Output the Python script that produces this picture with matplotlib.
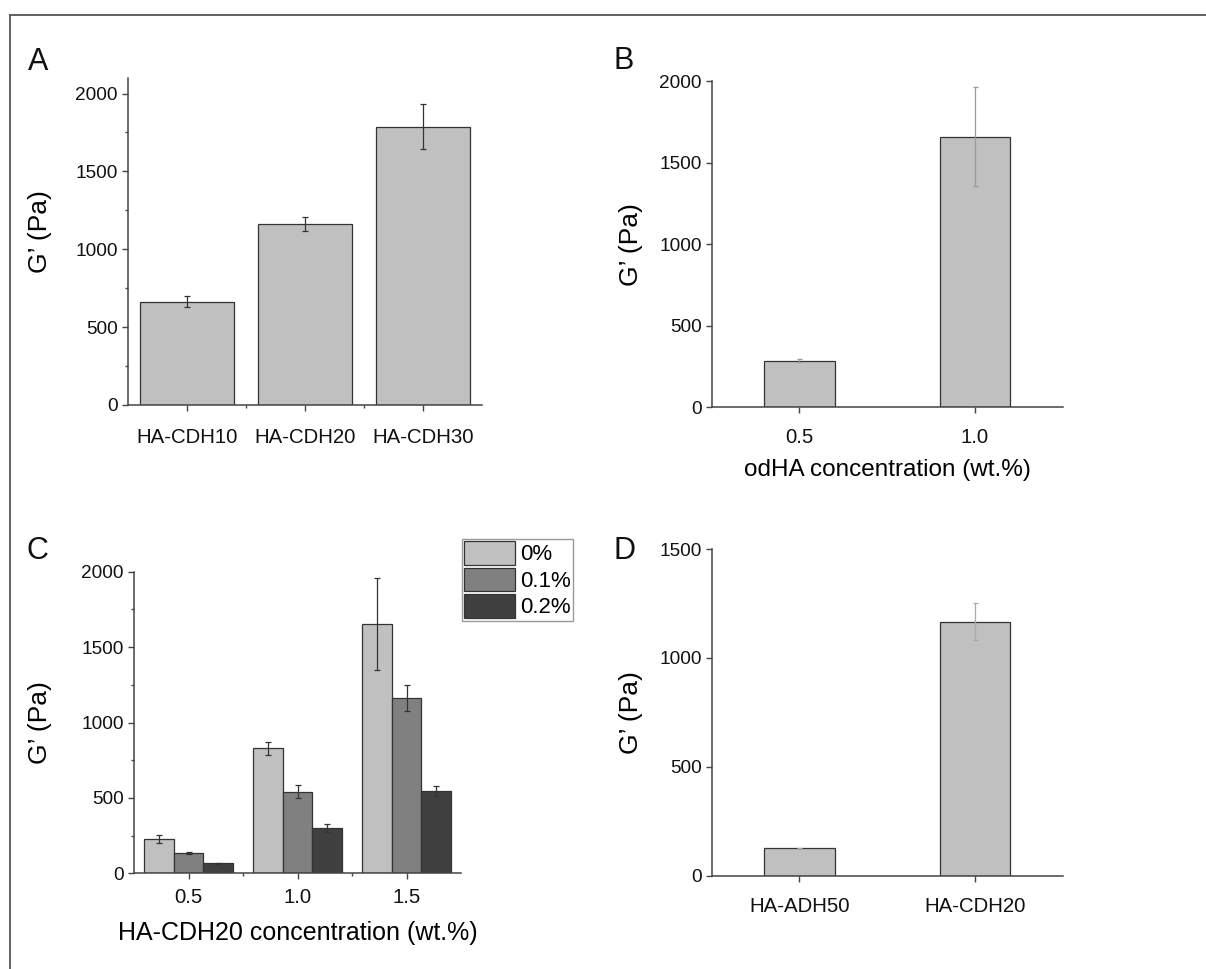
import matplotlib
matplotlib.use('Agg')
import matplotlib.pyplot as plt
from matplotlib.lines import Line2D
from matplotlib.ticker import MultipleLocator, FixedLocator
import numpy as np

plt.rcParams['font.family'] = ['Liberation Sans', 'DejaVu Sans']

# ---------------- data ----------------
a_labels = ['HA-CDH10', 'HA-CDH20', 'HA-CDH30']
a_values = [663, 1163, 1786]
a_errors = [35, 45, 144]

b_labels = ['0.5', '1.0']
b_values = [286, 1659]
b_errors = [8, 305]

c_labels = ['0.5', '1.0', '1.5']
c_series = ['0%', '0.1%', '0.2%']
c_v0 = [227, 829, 1653]
c_e0 = [27, 44, 302]
c_v1 = [133, 541, 1164]
c_e1 = [7, 42, 85]
c_v2 = [66, 302, 546]
c_e2 = [5, 25, 33]

d_labels = ['HA-ADH50', 'HA-CDH20']
d_values = [126, 1166]
d_errors = [3, 85]

ylabel = 'G\u2019 (Pa)'

# ---------------- layout ----------------
W, H = 1206, 969
fig = plt.figure(figsize=(W / 100, H / 100), dpi=100)


def axrect(l, t, r, b):
    return [l / W, 1 - b / H, (r - l) / W, (b - t) / H]


SP = '#444444'
EDGE = '#333333'
LIGHT = '#c0c0c0'


def style(ax, xlim, ylim, yticks, xpad, minor=False):
    for s in ['top', 'right']:
        ax.spines[s].set_visible(False)
    for s in ['left', 'bottom']:
        ax.spines[s].set_color(SP)
        ax.spines[s].set_linewidth(1.1)
    ax.set_xlim(*xlim)
    ax.set_ylim(*ylim)
    ax.set_yticks(yticks)
    ax.tick_params(which='both', direction='out', color=SP, width=1.0, labelcolor='#111111')
    ax.tick_params(axis='y', which='major', length=4.2, pad=3, labelsize=13.7)
    ax.tick_params(axis='x', which='major', length=4.5, pad=xpad, labelsize=14.7)
    if minor:
        ax.yaxis.set_minor_locator(MultipleLocator(250))
        ax.tick_params(axis='both', which='minor', length=2.5)


# ---- Panel A ----
axA = fig.add_axes(axrect(128, 78, 482, 405))
xa = np.arange(1, len(a_labels) + 1)
axA.bar(xa, a_values, width=0.8, color=LIGHT, edgecolor=EDGE, linewidth=0.9,
        yerr=a_errors, capsize=2.2,
        error_kw=dict(ecolor='#333333', elinewidth=0.9, capthick=0.9))
style(axA, (0.5, 3.5), (0, 2100), [0, 500, 1000, 1500, 2000], xpad=12, minor=True)
axA.set_xticks(xa)
axA.set_xticklabels(a_labels)
axA.xaxis.set_minor_locator(FixedLocator([1.5, 2.5]))
axA.set_ylabel(ylabel, fontsize=19)
axA.yaxis.set_label_coords(-0.215, 0.53)

# ---- Panel B ----
axB = fig.add_axes(axrect(711.7, 81, 1062.7, 407.3))
xb = np.arange(1, len(b_labels) + 1)
axB.bar(xb, b_values, width=0.4, color=LIGHT, edgecolor=EDGE, linewidth=0.9,
        yerr=b_errors, capsize=1.8,
        error_kw=dict(ecolor='#999999', elinewidth=0.9, capthick=0.9))
style(axB, (0.5, 2.5), (0, 2000), [0, 500, 1000, 1500, 2000], xpad=10.5)
axB.set_xticks(xb)
axB.set_xticklabels(b_labels)
axB.set_ylabel(ylabel, fontsize=19)
axB.yaxis.set_label_coords(-0.196, 0.5)
axB.set_xlabel('odHA concentration (wt.%)', fontsize=17.5)
axB.xaxis.set_label_coords(0.5, -0.158)

# ---- Panel C ----
axC = fig.add_axes(axrect(134, 571.7, 461, 873.3))
xc = np.arange(1, len(c_labels) + 1)
bw = 0.27
c_vals = [c_v0, c_v1, c_v2]
c_errs = [c_e0, c_e1, c_e2]
c_cols = ['#c0c0c0', '#808080', '#404040']
for i, (v, e, col, lab) in enumerate(zip(c_vals, c_errs, c_cols, c_series)):
    axC.bar(xc + (i - 1) * bw, v, width=bw, color=col, edgecolor=EDGE, linewidth=0.9,
            yerr=e, capsize=2.2, label=lab,
            error_kw=dict(ecolor='#333333', elinewidth=0.9, capthick=0.9))
style(axC, (0.5, 3.5), (0, 2000), [0, 500, 1000, 1500, 2000], xpad=6, minor=True)
axC.set_xticks(xc)
axC.set_xticklabels(c_labels)
axC.xaxis.set_minor_locator(FixedLocator([1.5, 2.5]))
axC.set_ylabel(ylabel, fontsize=19)
axC.yaxis.set_label_coords(-0.251, 0.5)
axC.set_xlabel('HA-CDH20 concentration (wt.%)', fontsize=18)
axC.xaxis.set_label_coords(0.5, -0.158)
leg = axC.legend(loc='upper left', bbox_to_anchor=(462 / W, 1 - 539 / H),
                 bbox_transform=fig.transFigure, borderaxespad=0,
                 fontsize=16, handlelength=2.3, handleheight=1.25,
                 labelspacing=0.1, handletextpad=0.2, borderpad=0.1,
                 fancybox=False, framealpha=1, edgecolor='#999999')
leg.get_frame().set_linewidth(1.0)

# ---- Panel D ----
axD = fig.add_axes(axrect(711.7, 549, 1062.7, 875.7))
xd = np.arange(1, len(d_labels) + 1)
axD.bar(xd, d_values, width=0.4, color=LIGHT, edgecolor=EDGE, linewidth=0.9,
        yerr=d_errors, capsize=1.8,
        error_kw=dict(ecolor='#aaaaaa', elinewidth=0.9, capthick=0.9))
style(axD, (0.5, 2.5), (0, 1500), [0, 500, 1000, 1500], xpad=10.5)
axD.set_xticks(xd)
axD.set_xticklabels(d_labels)
axD.set_ylabel(ylabel, fontsize=19)
axD.yaxis.set_label_coords(-0.196, 0.5)

# ---- panel letters ----
for (px, py, t) in [(28, 70, 'A'), (614, 69, 'B'), (27, 559, 'C'), (614, 559, 'D')]:
    fig.text(px / W, 1 - py / H, t, fontsize=22, va='baseline', ha='left', color='#111111')

# ---- outer frame (top and left edges) ----
fig.add_artist(Line2D([10 / W, 1.0], [1 - 15 / H, 1 - 15 / H], transform=fig.transFigure,
                      color='#555555', linewidth=1.3))
fig.add_artist(Line2D([10 / W, 10 / W], [1 - 15 / H, 0.0], transform=fig.transFigure,
                      color='#555555', linewidth=1.3))

fig.savefig('out.png', dpi=100)
